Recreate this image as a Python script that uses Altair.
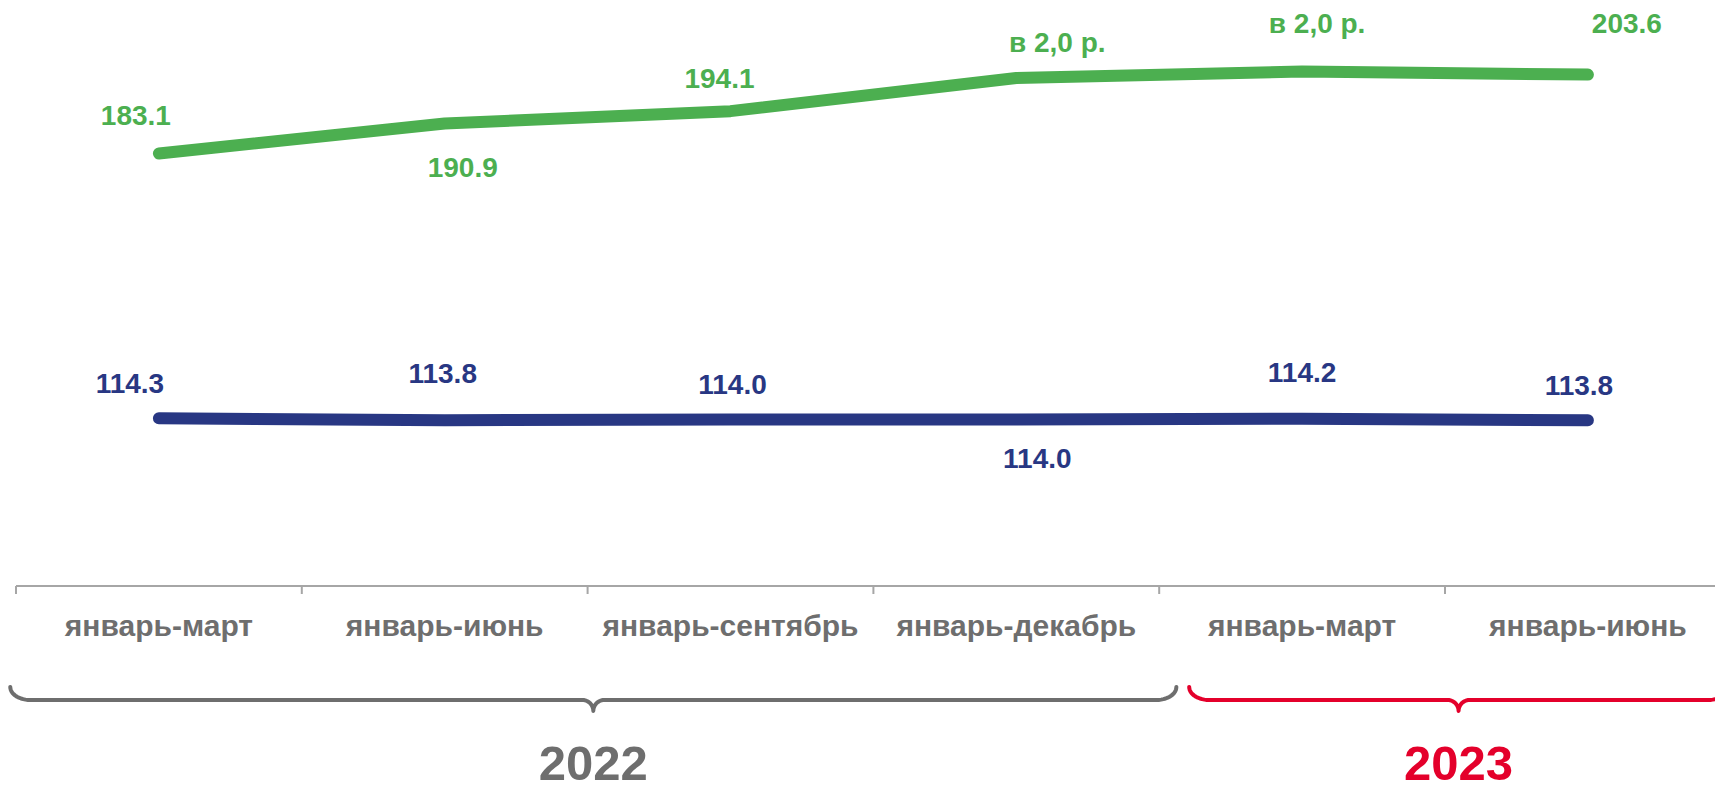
import altair as alt
import numpy as np
import pandas as pd

# ---------------- data ----------------
categories = ["январь-март", "январь-июнь", "январь-сентябрь", "январь-декабрь",
              "январь-март", "январь-июнь"]
green_values = [183.1, 190.9, 194.1, 202.7, 204.4, 203.6]
green_labels = ["183.1", "190.9", "194.1", "в 2,0 р.", "в 2,0 р.", "203.6"]
blue_values = [114.3, 113.8, 114.0, 114.0, 114.2, 113.8]
blue_labels = ["114.3", "113.8", "114.0", "114.0", "114.2", "113.8"]
years = ["2022", "2023"]
year_first = [0, 4]
year_last = [3, 5]

# ---------------- layout / style ----------------
green_dx = [-23, 18, -11, 41, 15, 39]
green_dy = [-36, 46, -31, -34, -47, -50]
blue_dx = [-29, -2, 2, 21, 0, -9]
blue_dy = [-33, -45, -33, 41, -45, -33]

GREEN = "#4caf50"
BLUE = "#283783"
GRAY = "#6e6e6e"
AXIS_GRAY = "#a6a6a6"
RED = "#e4002b"
FONT = "Liberation Sans"

W, H = 1707, 773
CAT_PX = 285.8
X_DOMAIN = [-0.5 - 8 / CAT_PX, -0.5 + (W - 8) / CAT_PX]
Y_TOP = 220.9
Y_PX = 3.849
Y_DOMAIN = [Y_TOP - H / Y_PX, Y_TOP]

xs = alt.Scale(domain=X_DOMAIN, nice=False, zero=False)
ys = alt.Scale(domain=Y_DOMAIN, nice=False, zero=False)
ps = alt.Scale(domain=[0, H], range=[0, H], nice=False, zero=False)

AXIS_Y = 578
TICK_LEN = 8
CAT_LABEL_Y = 618.5
YEAR_BASE_Y = 772
BRACE_TOP, BRACE_MID, BRACE_TIP = 679, 692, 703
BRACE_CURL = 20 / CAT_PX
BRACE_TIPW = 11 / CAT_PX
brace_extend_left = [-0.02, 0.105]
brace_extend_right = [0.06, -0.01]
brace_colors = [GRAY, RED]

idx = list(range(len(categories)))
df_cat = pd.DataFrame({"i": idx, "cat": categories})
df_green = pd.DataFrame({"i": idx, "v": green_values, "lab": green_labels})
df_blue = pd.DataFrame({"i": idx, "v": blue_values, "lab": blue_labels})

layers = []

# axis line and ticks
df_axis = pd.DataFrame({"a": [-0.5], "b": [len(categories) - 0.5]})
layers.append(
    alt.Chart(df_axis).mark_rule(color=AXIS_GRAY, strokeWidth=2, clip=True).encode(
        x=alt.X("a:Q", scale=xs, axis=None), x2="b:Q", y=alt.value(AXIS_Y)
    )
)
df_ticks = pd.DataFrame({"t": [i - 0.5 for i in idx] + [len(categories) - 0.5]})
layers.append(
    alt.Chart(df_ticks).mark_rule(color=AXIS_GRAY, strokeWidth=2, clip=True).encode(
        x=alt.X("t:Q", scale=xs, axis=None), y=alt.value(AXIS_Y), y2=alt.value(AXIS_Y + TICK_LEN)
    )
)
# category labels
layers.append(
    alt.Chart(df_cat).mark_text(font=FONT, fontSize=30, fontWeight="bold", color=GRAY,
                                baseline="middle", align="center").encode(
        x=alt.X("i:Q", scale=xs, axis=None), y=alt.value(CAT_LABEL_Y), text="cat:N"
    )
)

# lines
for df, col in [(df_green, GREEN), (df_blue, BLUE)]:
    layers.append(
        alt.Chart(df).mark_line(color=col, strokeWidth=12, strokeCap="round",
                                strokeJoin="round").encode(
            x=alt.X("i:Q", scale=xs, axis=None),
            y=alt.Y("v:Q", scale=ys, axis=None),
        )
    )

# data labels
for df, col, dxs, dys in [(df_green, GREEN, green_dx, green_dy),
                          (df_blue, BLUE, blue_dx, blue_dy)]:
    for k in idx:
        layers.append(
            alt.Chart(df.iloc[[k]]).mark_text(font=FONT, fontSize=28, fontWeight="bold",
                                              color=col, dx=dxs[k], dy=dys[k],
                                              baseline="middle", align="center").encode(
                x=alt.X("i:Q", scale=xs, axis=None),
                y=alt.Y("v:Q", scale=ys, axis=None),
                text="lab:N",
            )
        )

# braces and year labels
t = np.linspace(0, np.pi / 2, 14)
for g in range(len(years)):
    a = year_first[g] - 0.5 + brace_extend_left[g]
    b = year_last[g] + 0.5 + brace_extend_right[g]
    m = (a + b) / 2
    pts = []
    for tt in t:
        pts.append((a + BRACE_CURL * (1 - np.cos(tt)), BRACE_TOP + (BRACE_MID - BRACE_TOP) * np.sin(tt)))
    for tt in t:
        pts.append((m - BRACE_TIPW + BRACE_TIPW * np.sin(tt), BRACE_MID + (BRACE_TIP - BRACE_MID) * (1 - np.cos(tt))))
    for tt in t[::-1]:
        pts.append((m + BRACE_TIPW - BRACE_TIPW * np.sin(tt), BRACE_MID + (BRACE_TIP - BRACE_MID) * (1 - np.cos(tt))))
    for tt in t[::-1]:
        pts.append((b - BRACE_CURL * (1 - np.cos(tt)), BRACE_TOP + (BRACE_MID - BRACE_TOP) * np.sin(tt)))
    df_b = pd.DataFrame({"bx": [p[0] for p in pts], "by": [p[1] for p in pts],
                         "k": list(range(len(pts)))})
    layers.append(
        alt.Chart(df_b).mark_line(color=brace_colors[g], strokeWidth=4, strokeCap="round",
                                  strokeJoin="round", clip=True).encode(
            x=alt.X("bx:Q", scale=xs, axis=None),
            y=alt.Y("by:Q", scale=ps, axis=None),
            order=alt.Order("k:Q"),
        )
    )
    df_y = pd.DataFrame({"yx": [m], "year": [years[g]]})
    layers.append(
        alt.Chart(df_y).mark_text(font=FONT, fontSize=49, fontWeight="bold",
                                  color=brace_colors[g], baseline="alphabetic",
                                  align="center").encode(
            x=alt.X("yx:Q", scale=xs, axis=None), y=alt.value(YEAR_BASE_Y), text="year:N"
        )
    )

chart = (
    alt.layer(*layers)
    .resolve_scale(y="independent")
    .properties(width=W, height=H, autosize=alt.AutoSizeParams(type="none"), padding=0)
    .configure_view(stroke=None)
)

chart.save("out.html", embed_options={"renderer": "svg", "actions": False})
